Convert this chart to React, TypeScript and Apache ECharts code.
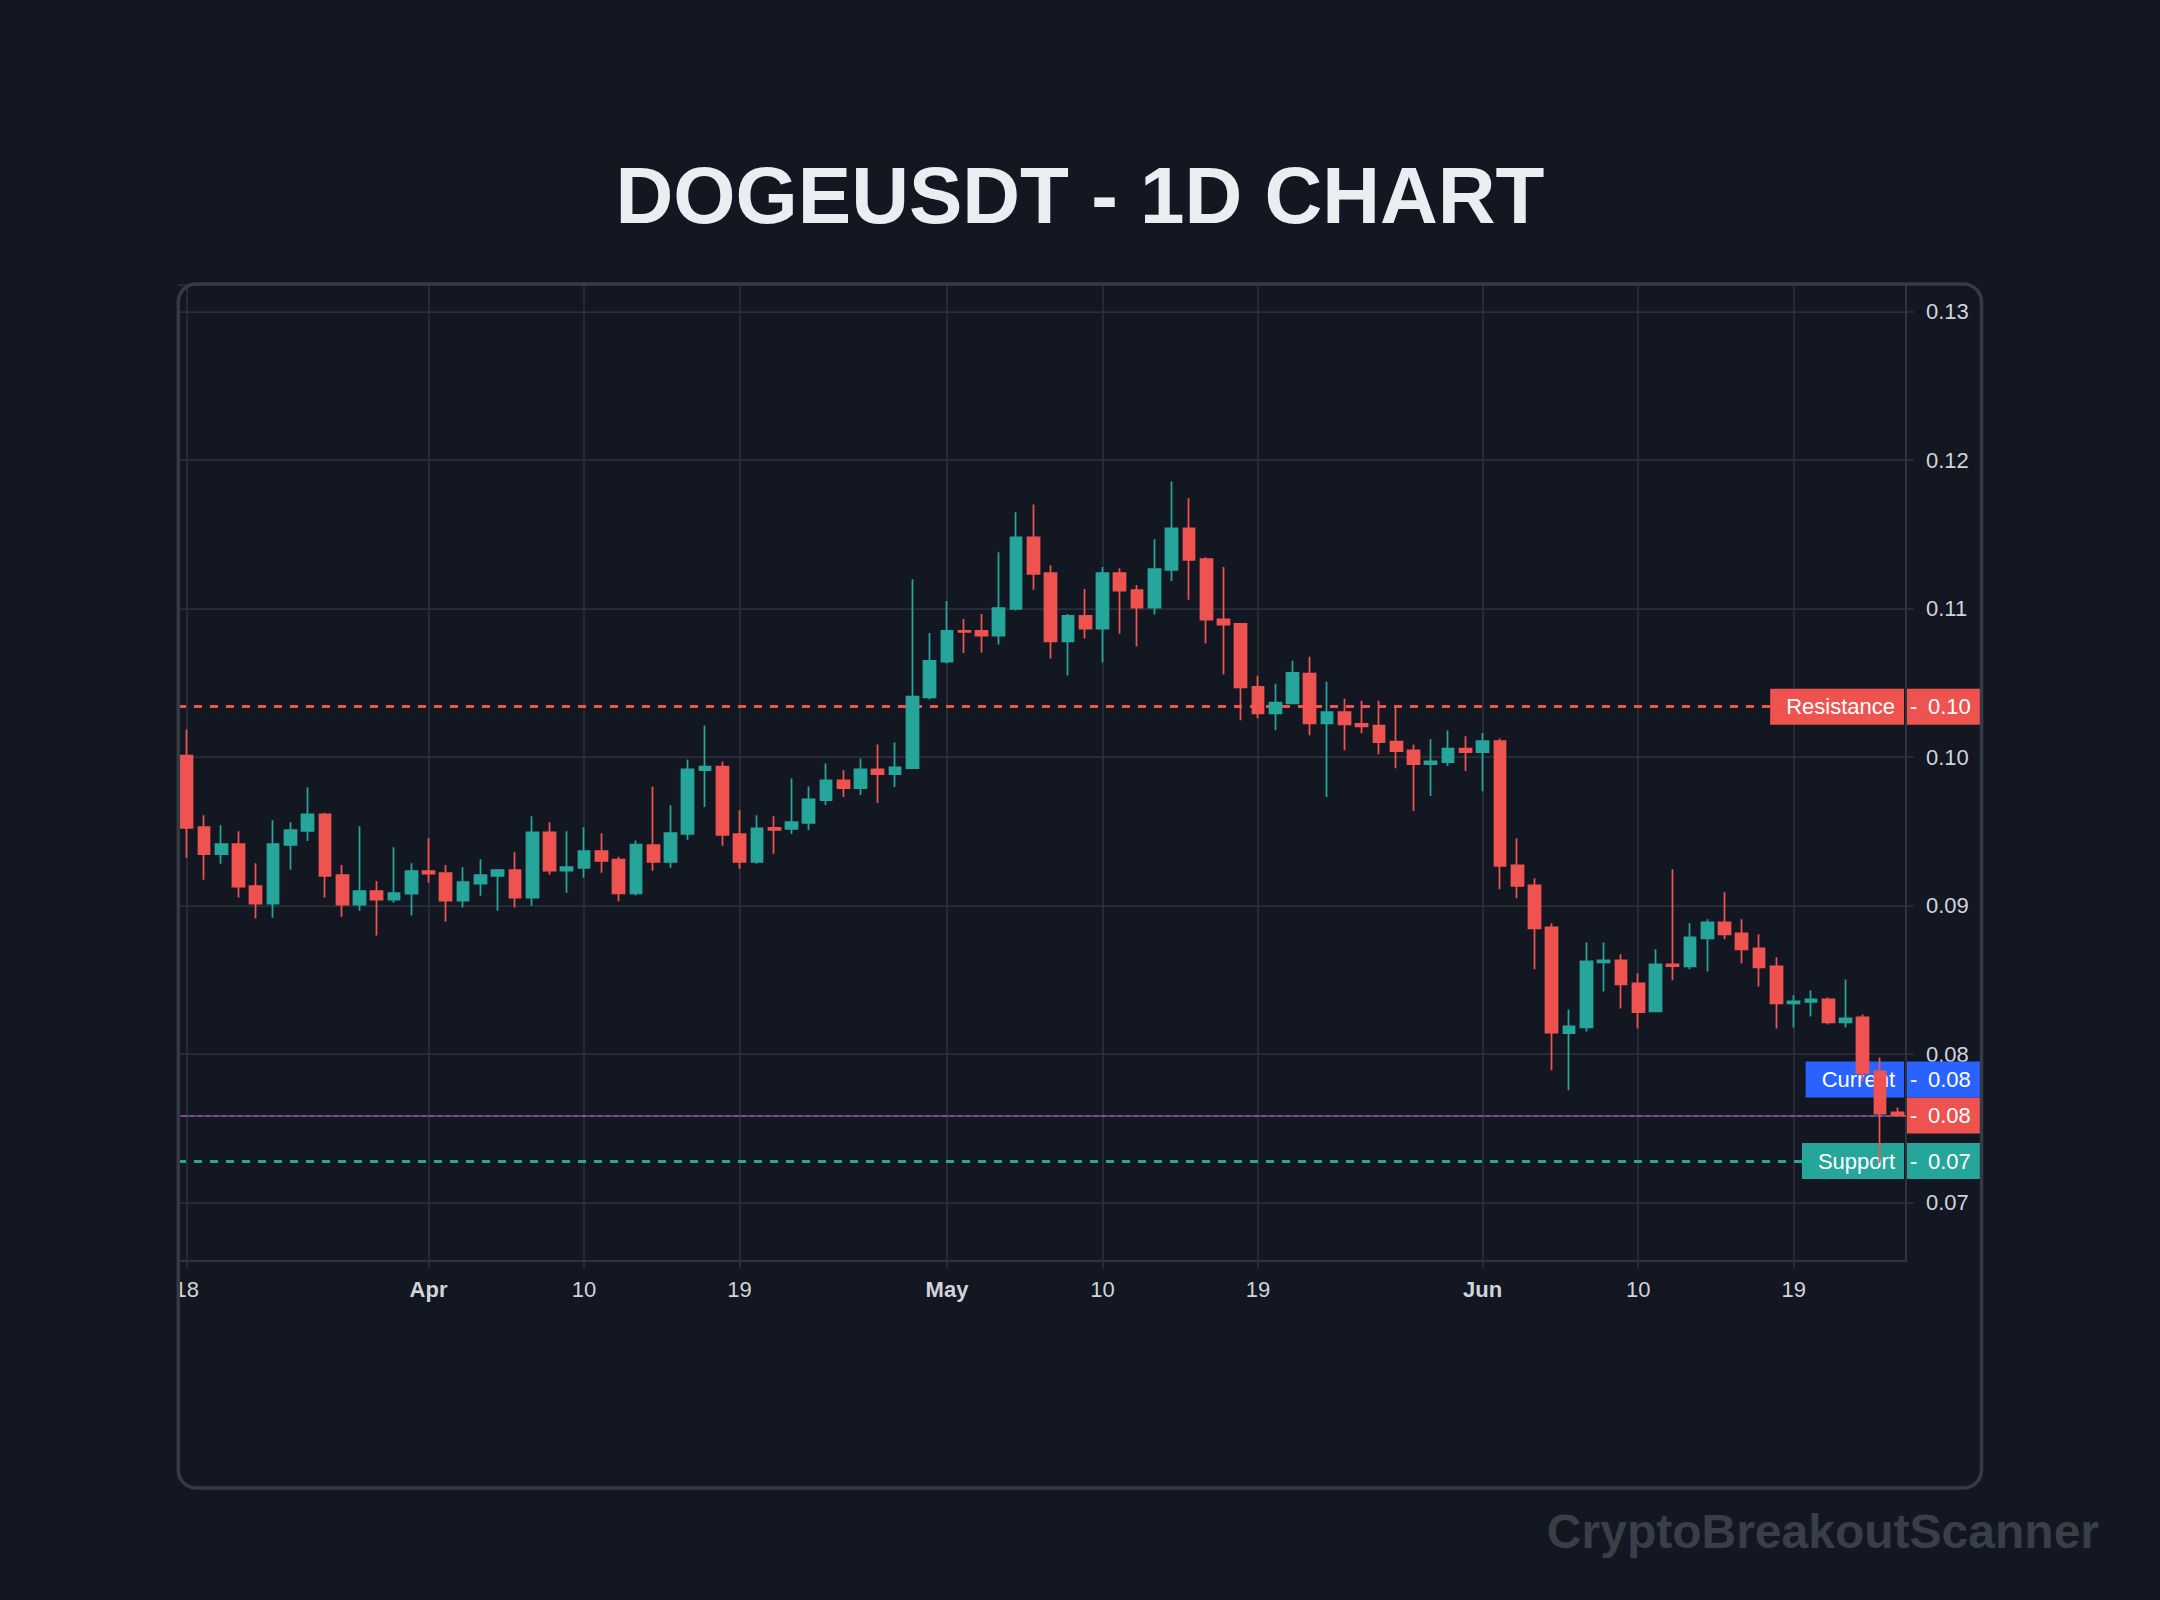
import React, { useEffect, useRef } from 'react';
import * as echarts from 'echarts';

// ---- data ----
const OPEN = [
  0.10011, 0.09528, 0.09347, 0.09414, 0.09132, 0.09013, 0.09409, 0.09503, 0.09615, 0.09206,
  0.09007, 0.09098, 0.0904, 0.09081, 0.09233, 0.09219, 0.09034, 0.09148, 0.09201, 0.09239,
  0.09054, 0.09494, 0.09235, 0.09255, 0.09367, 0.0931, 0.09083, 0.09407, 0.09295, 0.09483,
  0.09913, 0.09937, 0.09481, 0.09295, 0.09523, 0.09517, 0.09557, 0.09711, 0.09843, 0.09792,
  0.09917, 0.09886, 0.09926, 0.10403, 0.10644, 0.1085, 0.1085, 0.10819, 0.10998, 0.11481,
  0.11239, 0.10779, 0.10951, 0.10866, 0.11239, 0.11125, 0.11007, 0.11262, 0.11541, 0.11333,
  0.10928, 0.10897, 0.10474, 0.10295, 0.10362, 0.10562, 0.10228, 0.10304, 0.10224, 0.10213,
  0.10105, 0.10045, 0.09953, 0.09966, 0.10058, 0.10034, 0.10108, 0.09272, 0.09137, 0.08854,
  0.08142, 0.0818, 0.08618, 0.08631, 0.08476, 0.08288, 0.08604, 0.08591, 0.0878, 0.08888,
  0.08813, 0.08712, 0.08591, 0.08342, 0.08351, 0.08369, 0.08213, 0.08247, 0.07883, 0.07607,
];
const HIGH = [
  0.10186, 0.09609, 0.09541, 0.09501, 0.09286, 0.09575, 0.09562, 0.09796, 0.09626, 0.09273,
  0.09535, 0.09166, 0.09394, 0.09286, 0.09454, 0.09273, 0.09259, 0.09313, 0.09246, 0.0936,
  0.09602, 0.09562, 0.09501, 0.09528, 0.09488, 0.0933, 0.09438, 0.09803, 0.09676, 0.09984,
  0.10213, 0.09971, 0.09642, 0.09609, 0.09602, 0.09857, 0.09803, 0.09957, 0.09911, 0.09991,
  0.10085, 0.10098, 0.11199, 0.10837, 0.11051, 0.10931, 0.10964, 0.1138, 0.11649, 0.11702,
  0.11293, 0.10964, 0.11132, 0.1128, 0.11273, 0.11159, 0.11468, 0.11857, 0.11743, 0.11347,
  0.1128, 0.10904, 0.10548, 0.10494, 0.10649, 0.10676, 0.10508, 0.10394, 0.1038, 0.1038,
  0.10331, 0.10083, 0.10121, 0.10179, 0.10141, 0.10162, 0.10126, 0.09454, 0.09184, 0.08881,
  0.08301, 0.08751, 0.08751, 0.08672, 0.08544, 0.08706, 0.09245, 0.08881, 0.08908, 0.0909,
  0.08908, 0.08807, 0.08652, 0.08396, 0.08429, 0.08382, 0.08503, 0.08267, 0.07978, 0.0764,
];
const LOW = [
  0.09322, 0.09174, 0.09282, 0.09054, 0.08913, 0.08919, 0.09242, 0.09436, 0.09054, 0.08926,
  0.08966, 0.08799, 0.0902, 0.08933, 0.09154, 0.08893, 0.08987, 0.09067, 0.08966, 0.08987,
  0.09, 0.09208, 0.09087, 0.09188, 0.09221, 0.0903, 0.09069, 0.09235, 0.09255, 0.09443,
  0.09664, 0.09403, 0.09248, 0.09282, 0.09349, 0.09483, 0.0951, 0.09678, 0.09732, 0.09745,
  0.09691, 0.09799, 0.0992, 0.10389, 0.10631, 0.10702, 0.10705, 0.10758, 0.10987, 0.11128,
  0.10664, 0.1055, 0.10799, 0.10638, 0.10832, 0.10745, 0.1096, 0.11186, 0.1106, 0.10765,
  0.10557, 0.10248, 0.10262, 0.10181, 0.10362, 0.10148, 0.09732, 0.10047, 0.10161, 0.1002,
  0.09926, 0.09638, 0.09738, 0.0994, 0.09906, 0.09771, 0.0911, 0.0905, 0.08571, 0.07892,
  0.07757, 0.08153, 0.08422, 0.08308, 0.08173, 0.08288, 0.08497, 0.08571, 0.08557, 0.08773,
  0.08611, 0.08456, 0.08173, 0.0818, 0.08254, 0.082, 0.0818, 0.07818, 0.07267, 0.07587,
];
const CLOSE = [
  0.09523, 0.09347, 0.09414, 0.09128, 0.09013, 0.09414, 0.09508, 0.09615, 0.09201, 0.09007,
  0.09098, 0.0904, 0.09085, 0.09233, 0.09215, 0.09034, 0.09159, 0.09206, 0.09239, 0.09054,
  0.09494, 0.09235, 0.0926, 0.09367, 0.09302, 0.09083, 0.09411, 0.09295, 0.09488, 0.09917,
  0.09937, 0.09477, 0.09295, 0.09521, 0.0951, 0.09562, 0.09716, 0.09843, 0.09792, 0.09917,
  0.09886, 0.09931, 0.10407, 0.10649, 0.1085, 0.10843, 0.10819, 0.11004, 0.11481, 0.11235,
  0.10779, 0.10951, 0.10866, 0.11239, 0.11121, 0.11007, 0.11266, 0.11541, 0.11329, 0.10926,
  0.10893, 0.1047, 0.10295, 0.10367, 0.10568, 0.10228, 0.10304, 0.10221, 0.10208, 0.10101,
  0.1004, 0.09953, 0.09971, 0.10058, 0.10034, 0.10108, 0.09267, 0.09133, 0.08847, 0.08144,
  0.08187, 0.08625, 0.08631, 0.0847, 0.08283, 0.08604, 0.08593, 0.08787, 0.08888, 0.08807,
  0.08706, 0.08584, 0.08342, 0.08355, 0.08369, 0.08213, 0.0824, 0.07874, 0.076, 0.07587,
];

const START_DATE = Date.UTC(2025, 2, 18);
const MONTHS = ['Jan', 'Feb', 'Mar', 'Apr', 'May', 'Jun', 'Jul', 'Aug', 'Sep', 'Oct', 'Nov', 'Dec'];
const CATEGORIES = OPEN.map((_, i) => {
  const d = new Date(START_DATE + i * 86400000);
  const mm = String(d.getUTCMonth() + 1).padStart(2, '0');
  const dd = String(d.getUTCDate()).padStart(2, '0');
  return `${mm}-${dd}`;
});
const TICK_DATES = ['03-18', '04-01', '04-10', '04-19', '05-01', '05-10', '05-19', '06-01', '06-10', '06-19'];

const RESISTANCE = 0.1034;
const SUPPORT = 0.0728;
const CURRENT = CLOSE[CLOSE.length - 1];

const Y_MIN = 0.0661;
const Y_MAX = 0.1318;

// ---- styles ----
const BG = '#131722';
const UP = '#26a69a';
const DOWN = '#ef5350';
const BLUE = '#2962ff';
const GRID_COLOR = '#2a2e39';
const BORDER = '#2f333e';
const TEXT = '#d1d4dc';
const FONT = '"Liberation Sans", Arial, sans-serif';

const GRID_LEFT = 178;
const GRID_TOP = 285;
const GRID_W = 1728;
const GRID_H = 975.5;

const TICK_SET = new Set(TICK_DATES);
const isTick = (i: number) => TICK_SET.has(CATEGORIES[i]);

const axisBox = (color: string, value: number) => ({
  show: true,
  position: 'end',
  distance: 1,
  formatter: () => `{tk|-}{val|${value.toFixed(2)}}`,
  backgroundColor: color,
  padding: [6, 10, 6, 3],
  color: '#ffffff',
  opacity: 1,
  fontFamily: FONT,
  fontSize: 22,
  lineHeight: 24,
  rich: {
    tk: { width: 18, fontSize: 22, lineHeight: 24, color: '#ffffff', fontFamily: FONT },
    val: { fontSize: 22, lineHeight: 24, color: '#ffffff', fontFamily: FONT },
  },
});

const nameBox = (text: string, color: string) => ({
  show: true,
  position: 'insideEnd',
  distance: 2,
  formatter: () => text,
  backgroundColor: color,
  padding: [6, 9, 6, 16],
  color: '#ffffff',
  opacity: 1,
  fontFamily: FONT,
  fontSize: 22,
  lineHeight: 24,
});

const HIDDEN_LINE = { width: 0, color: 'rgba(0,0,0,0)', opacity: 1 };

export default function App() {
  const ref = useRef<HTMLDivElement>(null);

  useEffect(() => {
    if (!ref.current) return;
    const chart = echarts.init(ref.current, null, { renderer: 'svg' });
    const pxPerUnit = GRID_H / (Y_MAX - Y_MIN);
    const labelShift = 36 / pxPerUnit; // stacked label above the last-price label

    const option: any = {
      backgroundColor: BG,
      animation: false,
      textStyle: { fontFamily: FONT },
      grid: { left: GRID_LEFT, top: GRID_TOP, width: GRID_W, height: GRID_H, containLabel: false },
      xAxis: {
        type: 'category',
        data: CATEGORIES,
        boundaryGap: true,
        axisLine: { show: true, lineStyle: { color: BORDER, width: 2 } },
        axisTick: {
          show: true,
          alignWithLabel: true,
          interval: (i: number) => isTick(i),
          length: 8,
          lineStyle: { color: GRID_COLOR, width: 1.75 },
        },
        axisLabel: {
          interval: (i: number) => isTick(i),
          color: TEXT,
          fontSize: 22,
          fontFamily: FONT,
          margin: 18,
          formatter: (value: string) => {
            const [m, d] = value.split('-');
            if (d === '01') return `{b|${MONTHS[Number(m) - 1]}}`;
            return String(Number(d));
          },
          rich: { b: { fontWeight: 'bold', fontSize: 22, color: TEXT, fontFamily: FONT } },
        },
        splitLine: { show: false },
      },
      yAxis: {
        type: 'value',
        position: 'right',
        min: Y_MIN,
        max: Y_MAX,
        splitNumber: 6,
        axisLine: { show: true, lineStyle: { color: BORDER, width: 2 } },
        axisTick: { show: true, length: 8, lineStyle: { color: GRID_COLOR, width: 1.75 } },
        axisLabel: {
          color: TEXT,
          fontSize: 22,
          fontFamily: FONT,
          margin: 20,
          showMinLabel: false,
          showMaxLabel: false,
          formatter: (v: number) => v.toFixed(2),
        },
        splitLine: { show: true, lineStyle: { color: GRID_COLOR, width: 1.75 } },
      },
      series: [
        {
          name: 'vgrid',
          type: 'line',
          data: [],
          silent: true,
          markLine: {
            silent: true,
            z: 1,
            animation: false,
            symbol: ['none', 'none'],
            label: { show: false },
            lineStyle: { color: GRID_COLOR, width: 1.75, type: 'solid' },
            data: TICK_DATES.map((d) => ({ xAxis: d })),
          },
        },
        {
          name: 'levels',
          type: 'line',
          data: [],
          silent: true,
          markLine: {
            silent: true,
            z: 5,
            precision: 6,
            animation: false,
            symbol: ['none', 'none'],
            data: [
              { yAxis: RESISTANCE, lineStyle: { color: DOWN, width: 3, type: [8, 8] }, label: axisBox(DOWN, RESISTANCE) },
              { yAxis: RESISTANCE, lineStyle: HIDDEN_LINE, label: nameBox('Resistance', DOWN) },
              { yAxis: SUPPORT, lineStyle: { color: UP, width: 3, type: [8, 8] }, label: axisBox(UP, SUPPORT) },
              { yAxis: SUPPORT, lineStyle: HIDDEN_LINE, label: nameBox('Support', UP) },
              { yAxis: CURRENT, lineStyle: { color: BLUE, width: 1.5, type: [4, 4] }, label: { show: false } },
              { yAxis: CURRENT, lineStyle: { color: DOWN, width: 1.5, type: [4, 4], dashOffset: 4 }, label: axisBox(DOWN, CURRENT) },
              { yAxis: CURRENT + labelShift, lineStyle: HIDDEN_LINE, label: axisBox(BLUE, CURRENT) },
              { yAxis: CURRENT + labelShift, lineStyle: HIDDEN_LINE, label: nameBox('Current', BLUE) },
            ],
          },
        },
        {
          name: 'DOGEUSDT',
          type: 'candlestick',
          z: 10,
          barWidth: 12.25,
          data: OPEN.map((o, i) => [o, CLOSE[i], LOW[i], HIGH[i]]),
          itemStyle: {
            color: UP,
            color0: DOWN,
            borderColor: UP,
            borderColor0: DOWN,
            borderWidth: 1.75,
          },
        },
      ],
      graphic: [
        {
          type: 'text',
          x: 1080,
          y: 195,
          z: 50,
          style: {
            text: 'DOGEUSDT - 1D CHART',
            fontSize: 80,
            fontWeight: 'bold',
            fontFamily: FONT,
            fill: '#ebedf0',
            align: 'center',
            verticalAlign: 'middle',
          },
        },
        {
          type: 'text',
          x: 2099,
          y: 1531,
          z: 50,
          style: {
            text: 'CryptoBreakoutScanner',
            fontSize: 48,
            fontWeight: 'bold',
            fontFamily: FONT,
            fill: '#3a3e48',
            align: 'right',
            verticalAlign: 'middle',
          },
        },
        {
          type: 'rect',
          z: 100,
          shape: { x: 0, y: 1264, width: 177, height: 60 },
          style: { fill: BG },
        },
        {
          type: 'rect',
          z: 101,
          shape: { x: 178.3, y: 284, width: 1803.2, height: 1204, r: 18 },
          style: { fill: 'none', stroke: '#363a45', lineWidth: 3.5 },
        },
      ],
    };
    chart.setOption(option);
    return () => chart.dispose();
  }, []);

  return (
    <div
      ref={ref}
      style={{ position: 'fixed', left: 0, top: 0, width: 2160, height: 1600, background: BG }}
    />
  );
}
